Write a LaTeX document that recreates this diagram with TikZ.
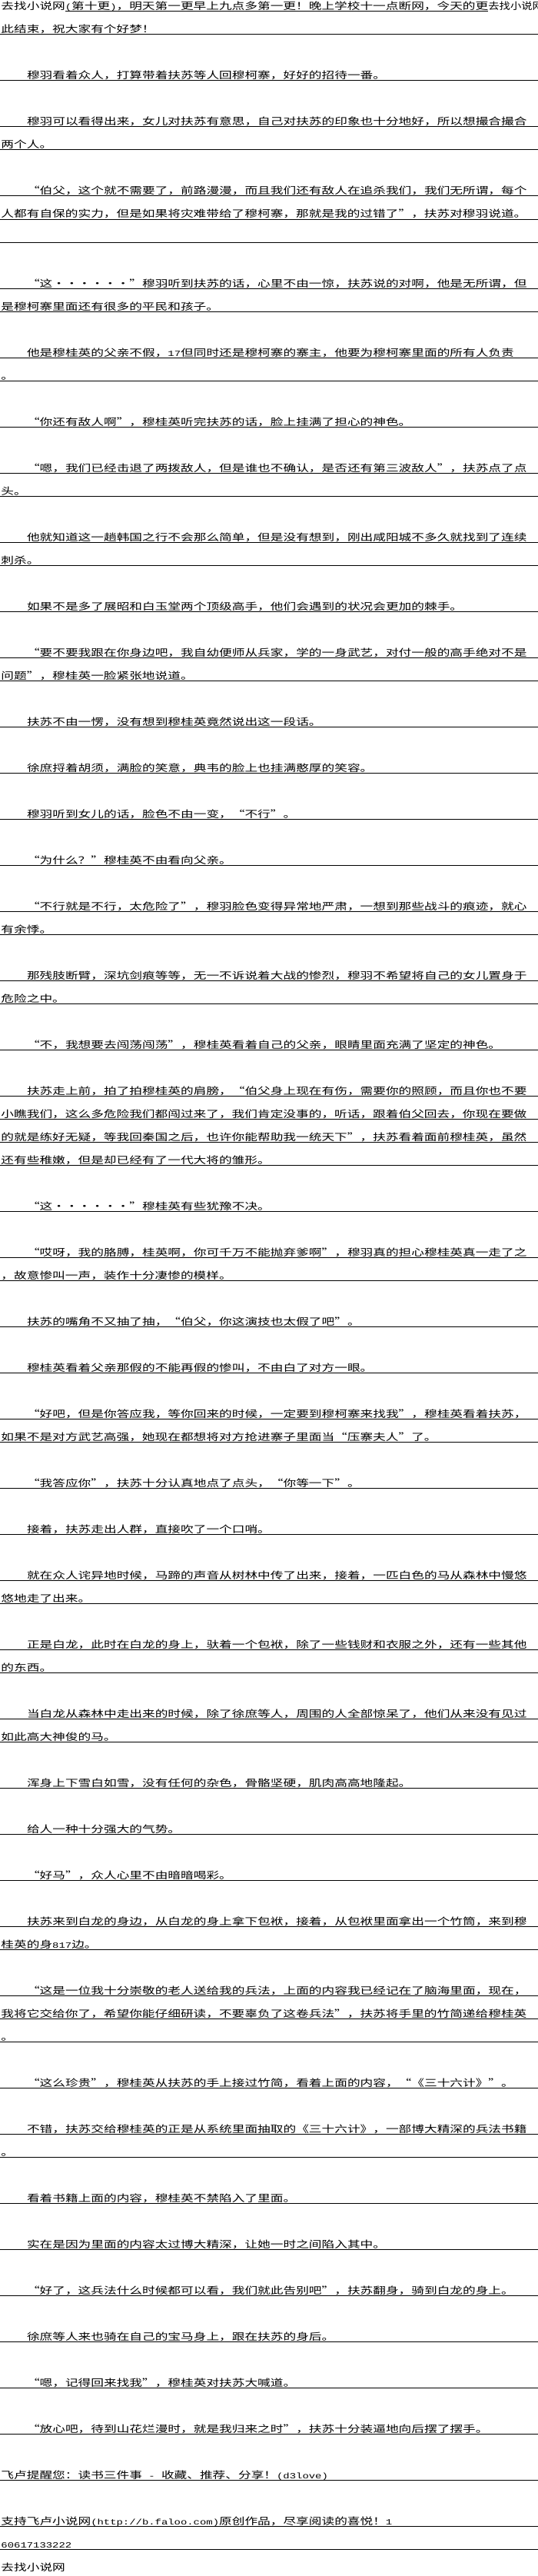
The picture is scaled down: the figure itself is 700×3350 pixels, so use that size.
\documentclass[tikz,border=0pt]{standalone}
\usepackage{fontspec}
\usepackage{graphicx}
\newfontfamily\cjk{Noto Sans CJK SC}
\newfontfamily\asc{Liberation Mono}
\newcommand\A[1]{{\fontsize{10.42pt}{10.42pt}\asc #1}}
\newcommand\T[1]{\scalebox{1.3344}[1]{\fontsize{12.5pt}{12.5pt}\cjk #1}}
\newcommand\qo{\makebox[1em][r]{“}}
\newcommand\qc{\makebox[1em][l]{”}}
\newcommand\dd{\makebox[1em]{·}}
\newcommand\six{\dd\dd\dd\dd\dd\dd}
\begin{document}
\begin{tikzpicture}[x=1pt,y=-1pt,
  txt/.style={anchor=base west, inner sep=0pt, outer sep=0pt},
  uline/.style={line width=1pt, black}]
\useasboundingbox (0,0) rectangle (700,3350);
\fill[white] (0,0) rectangle (700,3350);
% underlines
\foreach \k in {1,3,5,6,8,9,10,12,13,15,16,18,20,21,23,24,26,28,29,31,33,35,37,39,40,42,43,45,47,48,49,50,52,54,55,57,59,61,62,64,66,68,69,71,72,74,75,77,79,81,83,84,86,87,88,90,92,93,95,97,99,101,103,105,107,109,110}
  \draw[uline] (0,{15+30*\k}) -- (700,{15+30*\k});
% line 0
\node[txt] (l0a) at (1.5,13) {\T{去找小说网}};
\node[txt] (l0b) at (l0a.base east) {\T{\A{(}第十更\A{)}，明天第一更早上九点多第一更！晚上学校十一点断网，今天的更}};
\node[txt] (l0c) at (l0b.base east) {\T{\scalebox{0.86}[1]{去找小说网}}};
\draw[uline] ([yshift=-2pt]l0b.base west) -- ([yshift=-2pt]l0b.base east);
\node[txt] (l1) at (1.5,43) {\T{此结束，祝大家有个好梦！}};
\node[txt] (l3) at (35,103) {\T{穆羽看着众人，打算带着扶苏等人回穆柯寨，好好的招待一番。}};
\node[txt] (l5) at (35,163) {\T{穆羽可以看得出来，女儿对扶苏有意思，自己对扶苏的印象也十分地好，所以想撮合撮合}};
\node[txt] (l6) at (1.5,193) {\T{两个人。}};
\node[txt] (l8) at (35,253) {\T{\qo 伯父，这个就不需要了，前路漫漫，而且我们还有敌人在追杀我们，我们无所谓，每个}};
\node[txt] (l9) at (1.5,283) {\T{人都有自保的实力，但是如果将灾难带给了穆柯寨，那就是我的过错了\qc，扶苏对穆羽说道。}};
\node[txt] (l12) at (35,373) {\T{\qo 这\six\qc 穆羽听到扶苏的话，心里不由一惊，扶苏说的对啊，他是无所谓，但}};
\node[txt] (l13) at (1.5,403) {\T{是穆柯寨里面还有很多的平民和孩子。}};
\node[txt] (l15) at (35,463) {\T{他是穆桂英的父亲不假，\A{17}但同时还是穆柯寨的寨主，他要为穆柯寨里面的所有人负责}};
\node[txt] (l16) at (1.5,493) {\T{。}};
\node[txt] (l18) at (35,553) {\T{\qo 你还有敌人啊\qc，穆桂英听完扶苏的话，脸上挂满了担心的神色。}};
\node[txt] (l20) at (35,613) {\T{\qo 嗯，我们已经击退了两拨敌人，但是谁也不确认，是否还有第三波敌人\qc，扶苏点了点}};
\node[txt] (l21) at (1.5,643) {\T{头。}};
\node[txt] (l23) at (35,703) {\T{他就知道这一趟韩国之行不会那么简单，但是没有想到，刚出咸阳城不多久就找到了连续}};
\node[txt] (l24) at (1.5,733) {\T{刺杀。}};
\node[txt] (l26) at (35,793) {\T{如果不是多了展昭和白玉堂两个顶级高手，他们会遇到的状况会更加的棘手。}};
\node[txt] (l28) at (35,853) {\T{\qo 要不要我跟在你身边吧，我自幼便师从兵家，学的一身武艺，对付一般的高手绝对不是}};
\node[txt] (l29) at (1.5,883) {\T{问题\qc，穆桂英一脸紧张地说道。}};
\node[txt] (l31) at (35,943) {\T{扶苏不由一愣，没有想到穆桂英竟然说出这一段话。}};
\node[txt] (l33) at (35,1003) {\T{徐庶捋着胡须，满脸的笑意，典韦的脸上也挂满憨厚的笑容。}};
\node[txt] (l35) at (35,1063) {\T{穆羽听到女儿的话，脸色不由一变，\qo 不行\qc。}};
\node[txt] (l37) at (35,1123) {\T{\qo 为什么？\qc 穆桂英不由看向父亲。}};
\node[txt] (l39) at (35,1183) {\T{\qo 不行就是不行，太危险了\qc，穆羽脸色变得异常地严肃，一想到那些战斗的痕迹，就心}};
\node[txt] (l40) at (1.5,1213) {\T{有余悸。}};
\node[txt] (l42) at (35,1273) {\T{那残肢断臂，深坑剑痕等等，无一不诉说着大战的惨烈，穆羽不希望将自己的女儿置身于}};
\node[txt] (l43) at (1.5,1303) {\T{危险之中。}};
\node[txt] (l45) at (35,1363) {\T{\qo 不，我想要去闯荡闯荡\qc，穆桂英看着自己的父亲，眼睛里面充满了坚定的神色。}};
\node[txt] (l47) at (35,1423) {\T{扶苏走上前，拍了拍穆桂英的肩膀，\qo 伯父身上现在有伤，需要你的照顾，而且你也不要}};
\node[txt] (l48) at (1.5,1453) {\T{小瞧我们，这么多危险我们都闯过来了，我们肯定没事的，听话，跟着伯父回去，你现在要做}};
\node[txt] (l49) at (1.5,1483) {\T{的就是练好无疑，等我回秦国之后，也许你能帮助我一统天下\qc，扶苏看着面前穆桂英，虽然}};
\node[txt] (l50) at (1.5,1513) {\T{还有些稚嫩，但是却已经有了一代大将的雏形。}};
\node[txt] (l52) at (35,1573) {\T{\qo 这\six\qc 穆桂英有些犹豫不决。}};
\node[txt] (l54) at (35,1633) {\T{\qo 哎呀，我的胳膊，桂英啊，你可千万不能抛弃爹啊\qc，穆羽真的担心穆桂英真一走了之}};
\node[txt] (l55) at (1.5,1663) {\T{，故意惨叫一声，装作十分凄惨的模样。}};
\node[txt] (l57) at (35,1723) {\T{扶苏的嘴角不又抽了抽，\qo 伯父，你这演技也太假了吧\qc。}};
\node[txt] (l59) at (35,1783) {\T{穆桂英看着父亲那假的不能再假的惨叫，不由白了对方一眼。}};
\node[txt] (l61) at (35,1843) {\T{\qo 好吧，但是你答应我，等你回来的时候，一定要到穆柯寨来找我\qc，穆桂英看着扶苏，}};
\node[txt] (l62) at (1.5,1873) {\T{如果不是对方武艺高强，她现在都想将对方抢进寨子里面当\qo 压寨夫人\qc 了。}};
\node[txt] (l64) at (35,1933) {\T{\qo 我答应你\qc，扶苏十分认真地点了点头，\qo 你等一下\qc。}};
\node[txt] (l66) at (35,1993) {\T{接着，扶苏走出人群，直接吹了一个口哨。}};
\node[txt] (l68) at (35,2053) {\T{就在众人诧异地时候，马蹄的声音从树林中传了出来，接着，一匹白色的马从森林中慢悠}};
\node[txt] (l69) at (1.5,2083) {\T{悠地走了出来。}};
\node[txt] (l71) at (35,2143) {\T{正是白龙，此时在白龙的身上，驮着一个包袱，除了一些钱财和衣服之外，还有一些其他}};
\node[txt] (l72) at (1.5,2173) {\T{的东西。}};
\node[txt] (l74) at (35,2233) {\T{当白龙从森林中走出来的时候，除了徐庶等人，周围的人全部惊呆了，他们从来没有见过}};
\node[txt] (l75) at (1.5,2263) {\T{如此高大神俊的马。}};
\node[txt] (l77) at (35,2323) {\T{浑身上下雪白如雪，没有任何的杂色，骨骼坚硬，肌肉高高地隆起。}};
\node[txt] (l79) at (35,2383) {\T{给人一种十分强大的气势。}};
\node[txt] (l81) at (35,2443) {\T{\qo 好马\qc，众人心里不由暗暗喝彩。}};
\node[txt] (l83) at (35,2503) {\T{扶苏来到白龙的身边，从白龙的身上拿下包袱，接着，从包袱里面拿出一个竹筒，来到穆}};
\node[txt] (l84) at (1.5,2533) {\T{桂英的身\A{817}边。}};
\node[txt] (l86) at (35,2593) {\T{\qo 这是一位我十分崇敬的老人送给我的兵法，上面的内容我已经记在了脑海里面，现在，}};
\node[txt] (l87) at (1.5,2623) {\T{我将它交给你了，希望你能仔细研读，不要辜负了这卷兵法\qc，扶苏将手里的竹简递给穆桂英}};
\node[txt] (l88) at (1.5,2653) {\T{。}};
\node[txt] (l90) at (35,2713) {\T{\qo 这么珍贵\qc，穆桂英从扶苏的手上接过竹简，看着上面的内容，\qo《三十六计》\qc。}};
\node[txt] (l92) at (35,2773) {\T{不错，扶苏交给穆桂英的正是从系统里面抽取的《三十六计》，一部博大精深的兵法书籍}};
\node[txt] (l93) at (1.5,2803) {\T{。}};
\node[txt] (l95) at (35,2863) {\T{看着书籍上面的内容，穆桂英不禁陷入了里面。}};
\node[txt] (l97) at (35,2923) {\T{实在是因为里面的内容太过博大精深，让她一时之间陷入其中。}};
\node[txt] (l99) at (35,2983) {\T{\qo 好了，这兵法什么时候都可以看，我们就此告别吧\qc，扶苏翻身，骑到白龙的身上。}};
\node[txt] (l101) at (35,3043) {\T{徐庶等人来也骑在自己的宝马身上，跟在扶苏的身后。}};
\node[txt] (l103) at (35,3103) {\T{\qo 嗯，记得回来找我\qc，穆桂英对扶苏大喊道。}};
\node[txt] (l105) at (35,3163) {\T{\qo 放心吧，待到山花烂漫时，就是我归来之时\qc，扶苏十分装逼地向后摆了摆手。}};
\node[txt] (l107) at (1.5,3223) {\T{飞卢提醒您：读书三件事\A{ - }收藏、推荐、分享！\A{(d3love)}}};
\node[txt] (l109) at (1.5,3283) {\T{支持飞卢小说网\A{(http://b.faloo.com)}原创作品，尽享阅读的喜悦！\A{1}}};
\node[txt] (l110) at (1.5,3313) {\T{\A{60617133222}}};
\node[txt] (l111) at (1.5,3343) {\T{去找小说网}};
\end{tikzpicture}
\end{document}
